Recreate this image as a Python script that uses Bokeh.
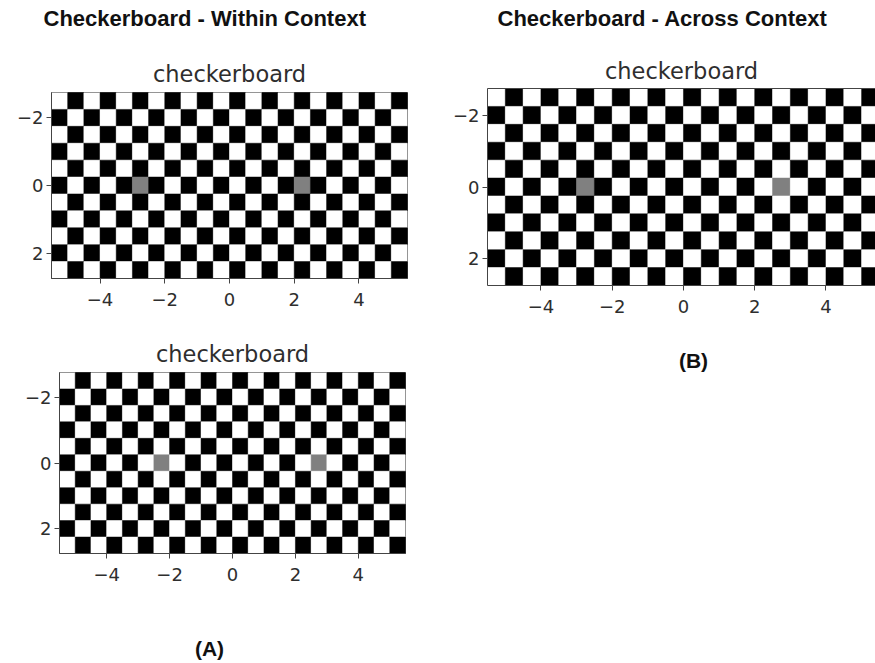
from bokeh.plotting import figure
from bokeh.models import Range1d, FixedTicker, Label, LinearAxis, ColumnDataSource
from bokeh.layouts import row, column
from bokeh.embed import file_html
from bokeh.resources import INLINE

# ---------------- data ----------------
n_cols = 22
n_rows = 11
cell_size = 0.5
x_start = -5.5
y_start = -2.75
within_top_gray_x = [-2.75, 2.25]
within_bottom_gray_x = [-2.25, 2.75]
across_gray_x = [-2.75, 2.75]
gray_y = [0.0, 0.0]
x_ticks = [-4, -2, 0, 2, 4]
y_ticks = [-2, 0, 2]
panel_title = "checkerboard"
header_within = "Checkerboard - Within Context"
header_across = "Checkerboard - Across Context"
label_a = "(A)"
label_b = "(B)"

WHITE = "#ffffff"
BLACK = "#000000"
GRAY = "#808080"
TXT = "#2e2e2e"
EDGE = "#444444"
HEAD = "#111111"


def board_source(gray_x):
    left, right, top, bottom, color = [], [], [], [], []
    for j in range(n_rows):
        for i in range(n_cols):
            x0 = x_start + i * cell_size
            y0 = y_start + j * cell_size
            xc, yc = x0 + cell_size / 2, y0 + cell_size / 2
            c = WHITE if (i + j) % 2 == 0 else BLACK
            for gx, gy in zip(gray_x, gray_y):
                if abs(xc - gx) < 1e-9 and abs(yc - gy) < 1e-9:
                    c = GRAY
            left.append(x0)
            right.append(x0 + cell_size)
            top.append(y0)
            bottom.append(y0 + cell_size)
            color.append(c)
    return ColumnDataSource(dict(left=left, right=right, top=top, bottom=bottom, color=color))


def minus(t):
    return str(t).replace("-", "\u2212")


def make_panel(gray_x, width, height, bl, br, bt, bb, standoff, x_end=None, outline=True):
    xe = x_start + n_cols * cell_size if x_end is None else x_end
    p = figure(width=width, height=height,
               x_range=Range1d(x_start, xe),
               y_range=Range1d(y_start + n_rows * cell_size, y_start),
               output_backend="svg", toolbar_location=None,
               min_border_left=bl, min_border_right=br,
               min_border_top=bt, min_border_bottom=bb)
    p.background_fill_color = "white"
    p.border_fill_color = "white"
    p.xgrid.visible = False
    p.ygrid.visible = False
    p.title.text = panel_title
    p.title.align = "center"
    p.title.text_font = "DejaVu Sans"
    p.title.text_font_size = "22.5px"
    p.title.text_font_style = "normal"
    p.title.text_color = TXT
    p.title.standoff = standoff
    src = board_source(gray_x)
    p.quad(left="left", right="right", top="top", bottom="bottom", source=src,
           fill_color="color", line_color="color", line_width=0.5)
    p.xaxis.ticker = FixedTicker(ticks=x_ticks)
    p.yaxis.ticker = FixedTicker(ticks=y_ticks)
    p.xaxis.major_label_overrides = {t: minus(t) for t in x_ticks}
    p.yaxis.major_label_overrides = {t: minus(t) for t in y_ticks}
    for ax in (p.xaxis[0], p.yaxis[0]):
        ax.major_tick_out = 5
        ax.major_tick_in = 0
        ax.minor_tick_line_color = None
        ax.major_label_text_font = "DejaVu Sans"
        ax.major_label_text_font_size = "18px"
        ax.major_label_text_color = TXT
        ax.axis_line_color = EDGE
        ax.major_tick_line_color = EDGE
    p.xaxis.major_label_standoff = 9
    p.yaxis.major_label_standoff = 3
    if outline:
        p.outline_line_color = EDGE
        p.outline_line_width = 1
    else:
        p.outline_line_color = None
        top_ax = LinearAxis(ticker=FixedTicker(ticks=[]), axis_line_color=EDGE,
                            major_tick_line_color=None, minor_tick_line_color=None,
                            major_label_text_font_size="0px")
        p.add_layout(top_ax, "above")
    return p


def text_strip(width, height):
    p = figure(width=width, height=height, x_range=Range1d(0, width), y_range=Range1d(0, height),
               output_backend="svg", toolbar_location=None,
               min_border_left=0, min_border_right=0, min_border_top=0, min_border_bottom=0)
    p.axis.visible = False
    p.grid.visible = False
    p.outline_line_color = None
    p.background_fill_color = "white"
    p.border_fill_color = "white"
    return p


def add_text(p, text, x, y, font, size, bold, align, color):
    p.add_layout(Label(x=x, y=y, text=text,
                       text_font=font, text_font_size=size,
                       text_font_style="bold" if bold else "normal",
                       text_align=align, text_baseline="alphabetic",
                       text_color=color))


# header strip (y 0..45)
header = text_strip(875, 45)
add_text(header, header_within, 43, 27, "Liberation Sans", "22px", True, "left", HEAD)
add_text(header, header_across, 497, 27, "Liberation Sans", "22px", True, "left", HEAD)

# Panel A top: frame 356 x 186
pa1 = make_panel(within_top_gray_x, 440, 280, 51, 33, 47, 47, 11)
# Panel A bottom: frame 346 x 181
pa2 = make_panel(within_bottom_gray_x, 440, 295, 59, 35, 47, 67, 12)
alab = text_strip(440, 43)
add_text(alab, label_a, 209, 15, "Liberation Sans", "21px", True, "center", HEAD)

# Panel B: frame 388 x 197 (cut at the window edge)
pb = make_panel(across_gray_x, 435, 300, 47, 0, 43, 60, 10, x_end=5.39, outline=False)
blab = text_strip(435, 318)
add_text(blab, label_b, 231, 303, "Liberation Sans", "21px", True, "center", HEAD)

layout = column(header, row(column(row(pa1), row(pa2), alab), column(pb, blab)))

open("out.html", "w").write(file_html(layout, INLINE))
